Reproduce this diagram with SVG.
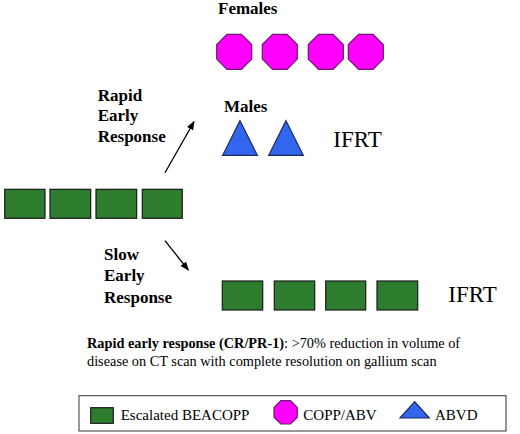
<svg xmlns="http://www.w3.org/2000/svg" xmlns:xlink="http://www.w3.org/1999/xlink" width="520" height="434" viewBox="0 0 520 434" font-family="Liberation Serif, Times New Roman, DejaVu Serif, serif">
<style>
.lbl{font-weight:bold;font-size:17px}
.big{font-size:23px}
.cap{font-size:14.3px}
.leg{font-size:15px}
.rect{fill:#2E7D2E;stroke:#1a1a1a;stroke-width:1.2}
.oct{fill:#FF00FF;stroke:#6a1a6a;stroke-width:1.2}
.tri{fill:#3366EE;stroke:#1a2a5a;stroke-width:1.2}
.conn{stroke:#000;stroke-width:1.3;fill:none}
</style>
<defs>
<polygon id="oct" points="10.25,0 24.75,0 35,10.25 35,24.75 24.75,35 10.25,35 0,24.75 0,10.25"/>
<polygon id="tri" points="17.3,0 34.6,34.6 0,34.6"/>
<marker id="ah" markerWidth="9" markerHeight="7" refX="8" refY="3.5" orient="auto" markerUnits="userSpaceOnUse">
<path d="M0,0 L9,3.5 L0,7 Z" fill="#000"/>
</marker>
</defs>
<rect width="520" height="434" fill="#fff"/>

<g id="females">
<text class="lbl" x="218" y="14">Females</text>
<use xlink:href="#oct" class="oct" x="216.7" y="34.3"/>
<use xlink:href="#oct" class="oct" x="262.3" y="34.3"/>
<use xlink:href="#oct" class="oct" x="308.3" y="34.3"/>
<use xlink:href="#oct" class="oct" x="348.3" y="34.3"/>
</g>

<g id="males">
<text class="lbl" x="224" y="111.7">Males</text>
<use xlink:href="#tri" class="tri" x="222.7" y="120.7"/>
<use xlink:href="#tri" class="tri" x="268.7" y="120.7"/>
<text class="big" x="333.3" y="146.7">IFRT</text>
</g>

<g id="rapid-label">
<text class="lbl" x="97.7" y="100.7">Rapid</text>
<text class="lbl" x="97.7" y="121">Early</text>
<text class="lbl" x="97.7" y="141.7">Response</text>
</g>

<g id="initial">
<rect class="rect" x="4.7" y="189.3" width="40.3" height="29"/>
<rect class="rect" x="50" y="189.3" width="40.7" height="29"/>
<rect class="rect" x="96" y="189.3" width="40.7" height="29"/>
<rect class="rect" x="142.3" y="189.3" width="40" height="29"/>
</g>

<g id="slow-label">
<text class="lbl" x="104" y="259.5">Slow</text>
<text class="lbl" x="104" y="281">Early</text>
<text class="lbl" x="104" y="302.7">Response</text>
</g>

<g id="slow">
<rect class="rect" x="222.3" y="281" width="40.4" height="29"/>
<rect class="rect" x="274.3" y="281" width="40.4" height="29"/>
<rect class="rect" x="325.7" y="281" width="40" height="29"/>
<rect class="rect" x="377" y="281" width="40.7" height="29"/>
<text class="big" x="448.3" y="301.7">IFRT</text>
</g>

<g id="connectors">
<line class="conn" x1="165" y1="172.7" x2="194" y2="121.7" marker-end="url(#ah)"/>
<line class="conn" x1="165" y1="240.7" x2="188.3" y2="270" marker-end="url(#ah)"/>
</g>

<g id="caption">
<text class="cap" x="87" y="348"><tspan font-weight="bold">Rapid early response (CR/PR-1)</tspan>: &gt;70% reduction in volume of</text>
<text class="cap" x="87" y="366">disease on CT scan with complete resolution on gallium scan</text>
</g>

<g id="legend">
<rect x="79" y="395.7" width="427" height="35.3" fill="#fff" stroke="#333" stroke-width="1"/>
<rect class="rect" x="90.7" y="407.7" width="22.6" height="15.6"/>
<text class="leg" x="120.7" y="420">Escalated BEACOPP</text>
<polygon class="oct" points="280.8,400.7 290.5,400.7 297.3,407.5 297.3,417.2 290.5,424 280.8,424 274,417.2 274,407.5"/>
<text class="leg" x="303.3" y="420">COPP/ABV</text>
<polygon class="tri" points="414.7,401.7 429.3,418 400,418"/>
<text class="leg" x="435" y="420">ABVD</text>
</g>
</svg>
